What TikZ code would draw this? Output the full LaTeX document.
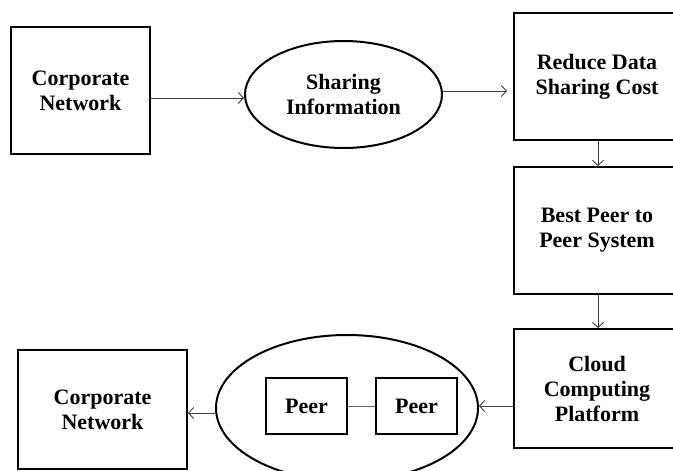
\documentclass[tikz,border=0pt]{standalone}
\usepackage{fontspec}
\setmainfont{Liberation Serif}
\usetikzlibrary{arrows.meta,shapes.geometric}
\tikzset{
  box/.style={draw=black, line width=2pt, rectangle, inner sep=0pt, align=center,
    font=\fontsize{22}{25}\selectfont\bfseries},
  oval/.style={draw=black, line width=2pt, ellipse, inner sep=0pt, align=center,
    font=\fontsize{22}{25}\selectfont\bfseries},
  peerbox/.style={draw=black, line width=1.8pt, rectangle, inner sep=0pt,
    minimum width=81pt, minimum height=56pt, font=\fontsize{22}{25}\selectfont\bfseries},
  arr/.style={draw=black!75, line width=0.9pt, -{Straight Barb[length=5pt,width=11pt]}},
  link/.style={draw=black!60, line width=0.9pt}
}
\begin{document}
\begin{tikzpicture}[x=1pt,y=-1pt]
\clip (0,0) rectangle (673,471);
\fill[white] (0,0) rectangle (673,471);
% top row
\node[box, minimum width=139pt, minimum height=127pt] (b1) at (80.5,90.5) {Corporate\\Network};
\node[oval, minimum width=197pt, minimum height=107pt] (e1) at (343.5,94.5) {Sharing\\Information};
\node[box, minimum width=166pt, minimum height=127pt] (b2) at (597,76.5) {Reduce Data\\Sharing Cost};
% right column
\node[box, minimum width=166pt, minimum height=127pt] (b3) at (597,230.5) {Best Peer to\\Peer System};
\node[box, minimum width=166pt, minimum height=119pt] (b4) at (597,388.5) {Cloud\\Computing\\Platform};
% bottom row
\node[oval, minimum width=262pt, minimum height=146pt] (e2) at (347,408) {};
\node[peerbox] (p1) at (306.5,406) {Peer};
\node[peerbox] (p2) at (416.5,406) {Peer};
\node[box, minimum width=169pt, minimum height=119pt] (b5) at (102.5,409.5) {Corporate\\Network};
% connectors
\draw[arr] (b1.east |- 0,98) -- (e1.west |- 0,98);
\draw[arr, shorten >=6pt] (e1.east |- 0,91) -- (b2.west |- 0,91);
\draw[arr] (b2.south -| 598,0) -- (b3.north -| 598,0);
\draw[arr] (b3.south -| 598,0) -- (b4.north -| 598,0);
\draw[arr] (b4.west |- 0,406) -- (e2.east |- 0,406);
\draw[arr] (e2.west |- 0,413) -- (b5.east |- 0,413);
\draw[link] (p1.east) -- (p2.west);
\end{tikzpicture}
\end{document}
